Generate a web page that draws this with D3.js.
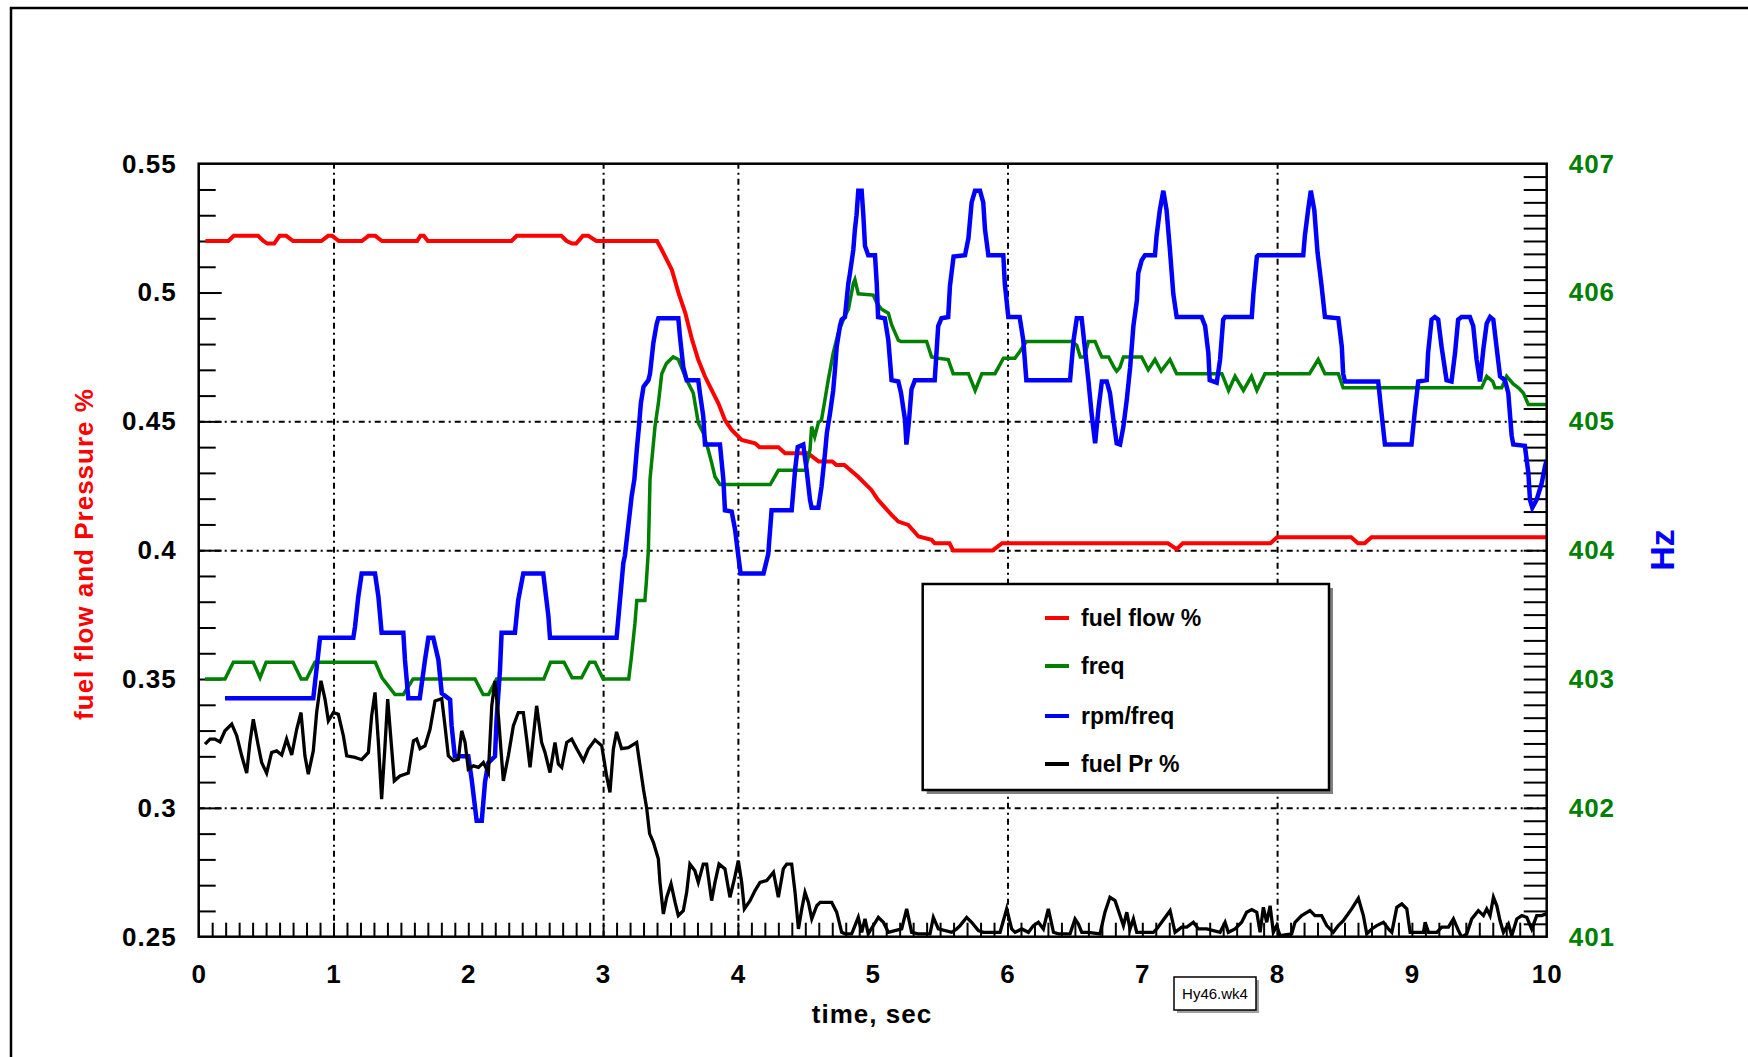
<!DOCTYPE html>
<html>
<head>
<meta charset="utf-8">
<script src="https://cdn.jsdelivr.net/npm/d3@7"></script>
<style>
  html, body { margin: 0; padding: 0; background: #fff; }
  svg { display: block; font-family: "Liberation Sans", Arial, sans-serif; }
</style>
</head>
<body>
<svg id="chart" width="1748" height="1057"></svg>
<script>
// ---------------- DATA ----------------
const xTicksMajor = [0, 1, 2, 3, 4, 5, 6, 7, 8, 9, 10];
const yLeftTicks = [0.25, 0.3, 0.35, 0.4, 0.45, 0.5, 0.55];
const yLeftLabels = ["0.25", "0.3", "0.35", "0.4", "0.45", "0.5", "0.55"];
const yRightTicks = [401, 402, 403, 404, 405, 406, 407];
const gridTimes = [1, 3, 4, 6, 8];
const gridLevels = [0.3, 0.4, 0.45];

const seriesNames = ["fuel flow %", "freq", "rpm/freq", "fuel Pr %"];
const seriesColors = ["#ff0000", "#008000", "#0000ff", "#000000"];

// fuel flow % : [time s, value] (left axis)
const fuelFlow = [[0.05,0.520],[0.22,0.520],[0.26,0.522],[0.44,0.522],[0.48,0.520],[0.51,0.519],[0.56,0.519],[0.60,0.522],[0.65,0.522],[0.70,0.520],[0.91,0.520],[0.96,0.522],[0.99,0.522],[1.04,0.520],[1.21,0.520],[1.26,0.522],[1.31,0.522],[1.36,0.520],[1.62,0.520],[1.645,0.522],[1.67,0.522],[1.70,0.520],[2.32,0.520],[2.36,0.522],[2.69,0.522],[2.73,0.520],[2.77,0.519],[2.80,0.519],[2.85,0.522],[2.89,0.522],[2.95,0.520],[3.40,0.520],[3.435,0.5166],[3.51,0.5088],[3.56,0.4998],[3.61,0.492],[3.66,0.4817],[3.706,0.4739],[3.756,0.4674],[3.805,0.4622],[3.855,0.457],[3.904,0.4505],[3.954,0.4467],[4.028,0.4428],[4.127,0.4415],[4.16,0.4400],[4.30,0.4400],[4.35,0.4376],[4.52,0.4376],[4.60,0.4344],[4.70,0.4344],[4.73,0.4331],[4.79,0.4331],[4.89,0.4286],[4.99,0.4234],[5.04,0.4195],[5.14,0.4137],[5.19,0.4111],[5.264,0.4098],[5.34,0.4053],[5.437,0.404],[5.46,0.4027],[5.57,0.4027],[5.597,0.3999],[5.89,0.3999],[5.96,0.4027],[7.19,0.4027],[7.255,0.4004],[7.30,0.4027],[7.95,0.4027],[8.0,0.405],[8.55,0.405],[8.6,0.4027],[8.65,0.4027],[8.7,0.405],[10.0,0.405]];

// freq : [time s, Hz] (right axis)
const freq = [[0.047,403.0],[0.195,403.0],[0.257,403.13],[0.405,403.13],[0.455,403.01],[0.50,403.13],[0.70,403.13],[0.76,403.0],[0.80,403.0],[0.862,403.13],[1.31,403.13],[1.36,403.01],[1.456,402.88],[1.518,402.88],[1.59,403.0],[2.05,403.0],[2.11,402.88],[2.15,402.88],[2.21,403.0],[2.56,403.0],[2.61,403.13],[2.71,403.13],[2.77,403.01],[2.84,403.01],[2.90,403.13],[2.94,403.13],[3.0,403.0],[3.19,403.0],[3.21,403.17],[3.236,403.43],[3.25,403.61],[3.31,403.61],[3.32,403.74],[3.336,404.0],[3.348,404.55],[3.385,404.96],[3.41,405.14],[3.435,405.37],[3.47,405.45],[3.52,405.5],[3.558,405.48],[3.62,405.32],[3.669,405.22],[3.706,404.99],[3.743,404.91],[3.78,404.78],[3.805,404.68],[3.83,404.57],[3.867,404.51],[4.24,404.51],[4.30,404.62],[4.50,404.62],[4.535,404.78],[4.547,404.96],[4.57,404.88],[4.597,404.99],[4.62,405.01],[4.646,405.17],[4.67,405.32],[4.707,405.53],[4.745,405.69],[4.79,405.81],[4.82,405.87],[4.856,406.07],[4.868,406.1],[4.893,405.99],[5.004,405.98],[5.03,405.92],[5.066,405.87],[5.116,405.84],[5.14,405.75],[5.19,405.63],[5.21,405.62],[5.40,405.62],[5.437,405.5],[5.486,405.49],[5.56,405.48],[5.597,405.37],[5.71,405.37],[5.76,405.24],[5.81,405.37],[5.907,405.37],[5.97,405.49],[6.055,405.49],[6.09,405.54],[6.14,405.62],[6.477,405.62],[6.514,405.59],[6.54,405.5],[6.57,405.5],[6.6,405.62],[6.65,405.62],[6.686,405.53],[6.70,405.5],[6.75,405.5],[6.79,405.42],[6.81,405.39],[6.834,405.42],[6.86,405.5],[6.995,405.5],[7.044,405.4],[7.094,405.48],[7.14,405.39],[7.205,405.48],[7.255,405.37],[7.59,405.37],[7.64,405.24],[7.688,405.35],[7.75,405.24],[7.81,405.35],[7.85,405.24],[7.91,405.37],[8.24,405.37],[8.305,405.48],[8.355,405.37],[8.454,405.37],[8.49,405.26],[9.517,405.26],[9.555,405.35],[9.6,405.31],[9.617,405.26],[9.666,405.26],[9.703,405.35],[9.752,405.29],[9.79,405.26],[9.827,405.22],[9.864,405.13],[10.0,405.13]];

// rpm/freq : [time s, Hz] (right axis)
const rpmFreq = [[0.195,402.85],[0.85,402.85],[0.90,403.32],[1.147,403.32],[1.16,403.41],[1.184,403.64],[1.209,403.82],[1.308,403.82],[1.333,403.64],[1.357,403.36],[1.518,403.36],[1.53,403.15],[1.555,402.85],[1.64,402.85],[1.679,403.15],[1.704,403.32],[1.74,403.32],[1.778,403.15],[1.803,402.89],[1.865,402.84],[1.876,402.64],[1.90,402.4],[2.0,402.4],[2.025,402.22],[2.062,401.9],[2.10,401.9],[2.124,402.2],[2.148,402.35],[2.198,402.4],[2.21,402.69],[2.235,403.07],[2.247,403.36],[2.346,403.36],[2.37,403.61],[2.408,403.82],[2.556,403.82],[2.594,403.49],[2.606,403.32],[3.10,403.32],[3.125,403.61],[3.15,403.9],[3.162,403.96],[3.187,404.19],[3.212,404.42],[3.232,404.55],[3.25,404.78],[3.266,404.96],[3.28,405.14],[3.30,405.27],[3.336,405.32],[3.348,405.37],[3.373,405.61],[3.398,405.76],[3.41,405.8],[3.558,405.8],[3.57,405.66],[3.595,405.42],[3.62,405.32],[3.706,405.32],[3.718,405.22],[3.743,405.04],[3.756,404.82],[3.867,404.82],[3.892,404.55],[3.904,404.31],[3.954,404.3],[3.979,404.16],[4.0,403.98],[4.02,403.82],[4.19,403.82],[4.225,403.97],[4.25,404.31],[4.399,404.31],[4.424,404.62],[4.444,404.8],[4.485,404.82],[4.51,404.62],[4.535,404.39],[4.547,404.33],[4.597,404.33],[4.62,404.49],[4.646,404.75],[4.66,404.91],[4.683,405.06],[4.707,405.24],[4.72,405.4],[4.733,405.58],[4.757,405.74],[4.77,405.79],[4.794,405.81],[4.819,406.07],[4.83,406.14],[4.856,406.33],[4.868,406.49],[4.88,406.6],[4.893,406.79],[4.918,406.79],[4.93,406.61],[4.943,406.36],[4.967,406.29],[5.017,406.29],[5.03,406.07],[5.04,405.81],[5.09,405.8],[5.116,405.63],[5.14,405.32],[5.19,405.31],[5.21,405.22],[5.24,405.01],[5.25,404.82],[5.268,404.99],[5.288,405.25],[5.313,405.32],[5.46,405.32],[5.486,405.74],[5.51,405.8],[5.56,405.81],[5.573,406.05],[5.60,406.28],[5.685,406.29],[5.71,406.42],[5.734,406.7],[5.759,406.79],[5.796,406.79],[5.82,406.7],[5.833,406.49],[5.858,406.29],[5.969,406.29],[5.98,406.07],[6.006,405.81],[6.09,405.81],[6.117,405.63],[6.14,405.32],[6.464,405.32],[6.49,405.63],[6.514,405.8],[6.55,405.8],[6.575,405.56],[6.60,405.32],[6.624,405.06],[6.65,404.83],[6.674,405.09],[6.70,405.31],[6.736,405.31],[6.76,405.22],[6.786,405.01],[6.81,404.83],[6.835,404.82],[6.86,404.96],[6.885,405.17],[6.91,405.42],[6.934,405.74],[6.96,405.94],[6.97,406.15],[6.995,406.25],[7.02,406.29],[7.094,406.29],[7.106,406.44],[7.13,406.64],[7.156,406.79],[7.18,406.64],[7.205,406.33],[7.23,405.99],[7.255,405.81],[7.44,405.81],[7.466,405.74],[7.49,405.53],[7.50,405.32],[7.552,405.3],[7.577,405.48],[7.60,405.79],[7.614,405.81],[7.812,405.81],[7.824,405.99],[7.85,406.28],[7.86,406.29],[8.194,406.29],[8.206,406.44],[8.23,406.64],[8.25,406.79],[8.276,406.64],[8.30,406.31],[8.33,406.05],[8.355,405.81],[8.454,405.8],[8.48,405.58],[8.49,405.37],[8.504,405.31],[8.75,405.31],[8.775,405.06],[8.80,404.82],[8.997,404.82],[9.02,405.06],[9.047,405.31],[9.11,405.32],[9.12,405.53],[9.146,405.79],[9.17,405.81],[9.195,405.79],[9.22,405.58],[9.257,405.32],[9.294,405.31],[9.32,405.53],[9.343,405.79],[9.368,405.81],[9.43,405.81],[9.455,405.74],[9.48,405.48],[9.505,405.31],[9.53,405.56],[9.555,405.76],[9.58,405.81],[9.604,405.79],[9.63,405.56],[9.654,405.35],[9.69,405.32],[9.715,405.22],[9.74,404.89],[9.752,404.82],[9.838,404.81],[9.864,404.6],[9.876,404.39],[9.893,404.33],[9.925,404.39],[9.963,404.52],[9.987,404.65],[10.0,404.7]];

// fuel Pr % : [time s, value] (left axis)
const fuelPr = [[0.047,0.3247],[0.084,0.3267],[0.12,0.3267],[0.158,0.3256],[0.195,0.3299],[0.245,0.3325],[0.282,0.328],[0.319,0.3202],[0.356,0.3135],[0.38,0.3254],[0.405,0.3344],[0.442,0.3241],[0.467,0.3176],[0.504,0.3135],[0.541,0.3215],[0.578,0.3221],[0.616,0.3205],[0.652,0.3267],[0.69,0.3205],[0.727,0.3305],[0.759,0.337],[0.788,0.3202],[0.813,0.3131],[0.85,0.3221],[0.875,0.337],[0.907,0.3493],[0.937,0.3422],[0.962,0.3338],[0.999,0.337],[1.036,0.3363],[1.073,0.328],[1.098,0.3202],[1.16,0.3196],[1.209,0.3187],[1.259,0.3215],[1.283,0.3357],[1.308,0.3448],[1.333,0.3254],[1.357,0.3034],[1.382,0.3241],[1.402,0.3422],[1.432,0.3228],[1.451,0.3105],[1.493,0.3124],[1.555,0.3135],[1.593,0.326],[1.617,0.3267],[1.642,0.323],[1.679,0.3241],[1.716,0.3305],[1.753,0.3415],[1.803,0.3424],[1.827,0.3318],[1.852,0.3202],[1.889,0.3183],[1.926,0.3189],[1.951,0.3299],[1.976,0.3254],[2.0,0.315],[2.038,0.3163],[2.075,0.3157],[2.112,0.3176],[2.149,0.3137],[2.174,0.3396],[2.198,0.3493],[2.223,0.3357],[2.26,0.3105],[2.297,0.3202],[2.334,0.3318],[2.371,0.337],[2.408,0.337],[2.433,0.3267],[2.458,0.3157],[2.507,0.3396],[2.544,0.3254],[2.569,0.3215],[2.606,0.3137],[2.643,0.3254],[2.668,0.317],[2.693,0.3157],[2.73,0.3254],[2.767,0.3267],[2.804,0.323],[2.854,0.3183],[2.89,0.3228],[2.94,0.3264],[2.99,0.3241],[3.026,0.3124],[3.051,0.306],[3.076,0.3228],[3.1,0.3295],[3.137,0.323],[3.187,0.3234],[3.249,0.3254],[3.274,0.3163],[3.30,0.307],[3.323,0.300],[3.345,0.290],[3.373,0.2866],[3.41,0.2801],[3.422,0.2711],[3.447,0.2588],[3.472,0.2653],[3.504,0.2705],[3.534,0.2633],[3.558,0.2582],[3.595,0.2601],[3.62,0.2672],[3.644,0.2782],[3.681,0.2756],[3.706,0.2711],[3.743,0.2782],[3.768,0.2782],[3.805,0.264],[3.83,0.2711],[3.86,0.2782],[3.904,0.2763],[3.941,0.2653],[3.974,0.2724],[4.003,0.2795],[4.028,0.2711],[4.048,0.2608],[4.09,0.264],[4.127,0.2679],[4.164,0.2711],[4.214,0.2718],[4.264,0.275],[4.3,0.2653],[4.337,0.2763],[4.362,0.2782],[4.399,0.2782],[4.424,0.2672],[4.449,0.253],[4.474,0.2608],[4.498,0.2672],[4.523,0.2633],[4.548,0.2569],[4.585,0.262],[4.61,0.2633],[4.696,0.2633],[4.733,0.2595],[4.77,0.2517],[4.795,0.2511],[4.844,0.2511],[4.893,0.2575],[4.918,0.2517],[4.943,0.2569],[4.967,0.2511],[5.042,0.2575],[5.079,0.2556],[5.116,0.2517],[5.215,0.253],[5.252,0.2608],[5.289,0.2517],[5.338,0.2511],[5.425,0.2511],[5.45,0.2575],[5.487,0.253],[5.586,0.2517],[5.623,0.253],[5.648,0.2543],[5.697,0.2575],[5.734,0.2556],[5.784,0.2524],[5.821,0.2517],[5.908,0.2517],[5.945,0.2517],[5.994,0.2608],[6.031,0.253],[6.056,0.2517],[6.106,0.253],[6.155,0.2517],[6.192,0.2543],[6.229,0.2556],[6.266,0.253],[6.303,0.2608],[6.341,0.2517],[6.378,0.2511],[6.464,0.2511],[6.501,0.2569],[6.526,0.2549],[6.551,0.2517],[6.6,0.2517],[6.686,0.2511],[6.723,0.2595],[6.76,0.2653],[6.798,0.264],[6.835,0.2582],[6.86,0.2543],[6.885,0.2595],[6.909,0.253],[6.934,0.2569],[6.959,0.2517],[6.996,0.2517],[7.082,0.2517],[7.107,0.253],[7.206,0.2601],[7.243,0.2517],[7.292,0.2537],[7.33,0.2537],[7.379,0.2556],[7.416,0.253],[7.478,0.253],[7.577,0.2517],[7.614,0.2556],[7.638,0.2517],[7.688,0.253],[7.737,0.2556],[7.774,0.2595],[7.812,0.2605],[7.849,0.2595],[7.874,0.2517],[7.898,0.2614],[7.923,0.2556],[7.948,0.262],[7.972,0.2517],[7.997,0.2543],[8.022,0.2504],[8.108,0.2511],[8.133,0.2556],[8.182,0.2582],[8.244,0.2601],[8.281,0.2582],[8.33,0.2582],[8.368,0.2543],[8.417,0.2517],[8.454,0.2543],[8.491,0.2562],[8.553,0.2608],[8.603,0.2649],[8.64,0.2582],[8.665,0.2511],[8.702,0.253],[8.739,0.2543],[8.789,0.2556],[8.826,0.253],[8.851,0.2517],[8.888,0.2614],[8.925,0.2627],[8.962,0.2608],[8.987,0.2517],[9.086,0.2517],[9.098,0.2556],[9.123,0.2517],[9.185,0.2517],[9.221,0.2537],[9.271,0.2537],[9.308,0.2569],[9.345,0.2524],[9.37,0.2498],[9.407,0.2511],[9.444,0.2569],[9.493,0.2601],[9.531,0.2582],[9.555,0.2608],[9.58,0.2582],[9.605,0.2653],[9.63,0.262],[9.654,0.2562],[9.679,0.2517],[9.716,0.2549],[9.741,0.2504],[9.778,0.2569],[9.815,0.2582],[9.852,0.2575],[9.889,0.253],[9.926,0.2582],[9.963,0.2582],[10.0,0.259]];

// ---------------- LAYOUT ----------------
const W = 1748, H = 1057;
const plot = { left: 198.7, right: 1546.7, top: 163.7, bottom: 936.7 };
const FONT = '"Liberation Sans", Arial, sans-serif';

const svg = d3.select("#chart");

const x = d3.scaleLinear().domain([0, 10]).range([plot.left, plot.right]);
const yL = d3.scaleLinear().domain([0.25, 0.55]).range([plot.bottom, plot.top]);
const yR = d3.scaleLinear().domain([401, 407]).range([plot.bottom, plot.top]);

// outer frame
svg.append("path")
  .attr("d", `M11,${H + 5}L11,8L${W + 5},8`)
  .attr("fill", "none").attr("stroke", "#000").attr("stroke-width", 2.5);

// clip
svg.append("defs").append("clipPath").attr("id", "clip")
  .append("rect").attr("x", plot.left).attr("y", plot.top)
  .attr("width", plot.right - plot.left).attr("height", plot.bottom - plot.top);

// grid
const gridDash = "6,4,2,4";
svg.append("g").attr("transform", `translate(0,${plot.bottom})`)
  .call(d3.axisBottom(x).tickValues(gridTimes).tickSize(-(plot.bottom - plot.top)).tickFormat(""))
  .call(g => g.select(".domain").remove())
  .call(g => g.selectAll("line").attr("stroke", "#000").attr("stroke-width", 2).attr("stroke-dasharray", gridDash));
svg.append("g").attr("transform", `translate(${plot.left},0)`)
  .call(d3.axisLeft(yL).tickValues(gridLevels).tickSize(-(plot.right - plot.left)).tickFormat(""))
  .call(g => g.select(".domain").remove())
  .call(g => g.selectAll("line").attr("stroke", "#000").attr("stroke-width", 2).attr("stroke-dasharray", gridDash));

// tick marks
function tickStyle(g, w) {
  g.select(".domain").remove();
  g.selectAll("line").attr("stroke", "#000").attr("stroke-width", w);
}
const minorX = d3.range(1, 100).map(i => i / 10);
svg.append("g").attr("transform", `translate(0,${plot.bottom})`)
  .call(d3.axisBottom(x).tickValues(minorX).tickSize(-14).tickFormat(""))
  .call(g => tickStyle(g, 2));
const minorL = d3.range(26, 55).map(i => i / 100).filter(v => Math.abs(v * 20 - Math.round(v * 20)) > 1e-6);
svg.append("g").attr("transform", `translate(${plot.left},0)`)
  .call(d3.axisLeft(yL).tickValues(minorL).tickSize(-17).tickFormat(""))
  .call(g => tickStyle(g, 2));
svg.append("g").attr("transform", `translate(${plot.left},0)`)
  .call(d3.axisLeft(yL).tickValues([0.3, 0.35, 0.4, 0.45, 0.5]).tickSize(-23).tickFormat(""))
  .call(g => tickStyle(g, 2));
const minorR = d3.range(4011, 4070).map(i => i / 10);
svg.append("g").attr("transform", `translate(${plot.right},0)`)
  .call(d3.axisRight(yR).tickValues(minorR).tickSize(-23).tickFormat(""))
  .call(g => tickStyle(g, 2));

// tick labels
svg.append("g").attr("transform", `translate(0,${plot.bottom})`)
  .call(d3.axisBottom(x).tickValues(xTicksMajor).tickSize(0).tickPadding(28).tickFormat(d3.format("d")))
  .call(g => g.select(".domain").remove())
  .call(g => g.selectAll("text").attr("font-family", FONT).attr("font-size", 26).attr("font-weight", "bold")
    .attr("fill", "#000").attr("letter-spacing", 1));
svg.append("g").attr("transform", `translate(${plot.left},0)`)
  .call(d3.axisLeft(yL).tickValues(yLeftTicks).tickSize(0).tickPadding(22).tickFormat((d, i) => yLeftLabels[i]))
  .call(g => g.select(".domain").remove())
  .call(g => g.selectAll("text").attr("font-family", FONT).attr("font-size", 26).attr("font-weight", "bold")
    .attr("fill", "#000").attr("letter-spacing", 1));
svg.append("g").attr("transform", `translate(${plot.right},0)`)
  .call(d3.axisRight(yR).tickValues(yRightTicks).tickSize(0).tickPadding(22).tickFormat(d3.format("d")))
  .call(g => g.select(".domain").remove())
  .call(g => g.selectAll("text").attr("font-family", FONT).attr("font-size", 26).attr("font-weight", "bold")
    .attr("fill", "#008000").attr("letter-spacing", 1));

// series lines
const lineL = d3.line().x(d => x(d[0])).y(d => yL(d[1]));
const lineR = d3.line().x(d => x(d[0])).y(d => yR(d[1]));
const lines = svg.append("g").attr("clip-path", "url(#clip)")
  .attr("fill", "none").attr("stroke-linejoin", "miter").attr("stroke-linecap", "butt");
lines.append("path").datum(fuelFlow).attr("d", lineL).attr("stroke", seriesColors[0]).attr("stroke-width", 4);
lines.append("path").datum(freq).attr("d", lineR).attr("stroke", seriesColors[1]).attr("stroke-width", 3.5);
lines.append("path").datum(rpmFreq).attr("d", lineR).attr("stroke", seriesColors[2]).attr("stroke-width", 4.5);
lines.append("path").datum(fuelPr).attr("d", lineL).attr("stroke", seriesColors[3]).attr("stroke-width", 3.3);

// plot frame
svg.append("rect").attr("x", plot.left).attr("y", plot.top)
  .attr("width", plot.right - plot.left).attr("height", plot.bottom - plot.top)
  .attr("fill", "none").attr("stroke", "#000").attr("stroke-width", 2.5);

// axis titles
svg.append("text")
  .attr("transform", "translate(84,554) rotate(-90)")
  .attr("text-anchor", "middle").attr("dominant-baseline", "central")
  .attr("font-family", FONT).attr("font-size", 26).attr("font-weight", "bold").attr("letter-spacing", 1)
  .attr("fill", "#ff0000").text("fuel flow and Pressure %");
svg.append("text")
  .attr("transform", "translate(1662,550) rotate(-90)")
  .attr("text-anchor", "middle").attr("dominant-baseline", "central")
  .attr("font-family", FONT).attr("font-size", 34).attr("font-weight", "bold")
  .attr("fill", "#0000ff").text("Hz");
svg.append("text")
  .attr("x", 872).attr("y", 1023)
  .attr("text-anchor", "middle")
  .attr("font-family", FONT).attr("font-size", 26).attr("font-weight", "bold").attr("letter-spacing", 1)
  .attr("fill", "#000").text("time, sec");

// legend
const lg = { x: 922.7, y: 584, w: 406.3, h: 206 };
svg.append("rect").attr("x", lg.x + 4).attr("y", lg.y + 4).attr("width", lg.w).attr("height", lg.h).attr("fill", "#808080");
svg.append("rect").attr("x", lg.x).attr("y", lg.y).attr("width", lg.w).attr("height", lg.h)
  .attr("fill", "#fff").attr("stroke", "#000").attr("stroke-width", 2.5);
const legendY = [618, 666, 716, 764];
const leg = svg.append("g").selectAll("g").data(seriesNames).join("g")
  .attr("transform", (d, i) => `translate(0,${legendY[i]})`);
leg.append("line").attr("x1", 1045).attr("x2", 1069).attr("y1", 0).attr("y2", 0)
  .attr("stroke", (d, i) => seriesColors[i]).attr("stroke-width", 4);
leg.append("text").attr("x", 1081).attr("y", 0).attr("dominant-baseline", "central")
  .attr("font-family", FONT).attr("font-size", 23).attr("font-weight", "bold").attr("fill", "#000")
  .text(d => d);

// file label box
const fb = { x: 1174, y: 977, w: 82, h: 33 };
svg.append("rect").attr("x", fb.x + 3).attr("y", fb.y + 3).attr("width", fb.w).attr("height", fb.h).attr("fill", "#a0a0a0");
svg.append("rect").attr("x", fb.x).attr("y", fb.y).attr("width", fb.w).attr("height", fb.h)
  .attr("fill", "#fff").attr("stroke", "#000").attr("stroke-width", 1.5);
svg.append("text").attr("x", fb.x + fb.w / 2).attr("y", fb.y + fb.h / 2)
  .attr("text-anchor", "middle").attr("dominant-baseline", "central")
  .attr("font-family", FONT).attr("font-size", 15).attr("fill", "#000").text("Hy46.wk4");
</script>
</body>
</html>
